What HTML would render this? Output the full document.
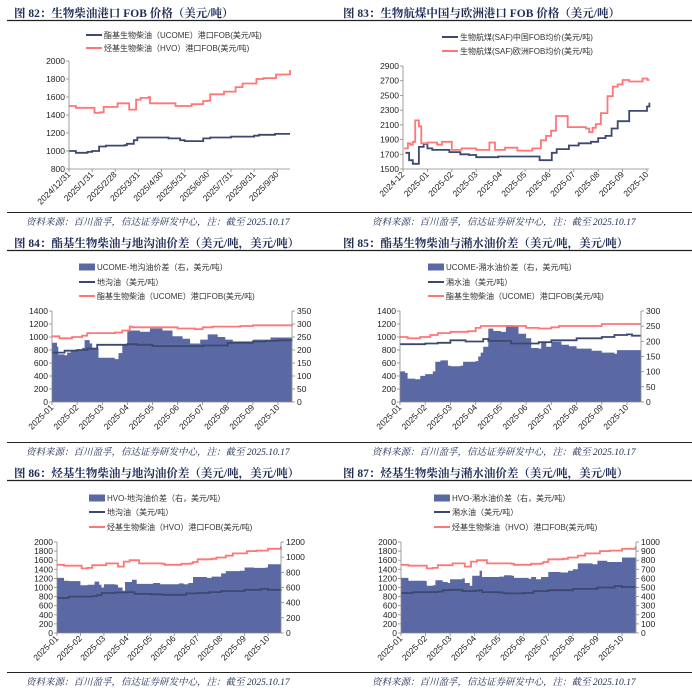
<!DOCTYPE html>
<html><head><meta charset="utf-8">
<style>
html,body{margin:0;padding:0;background:#fff;}
svg{display:block;font-family:"Liberation Sans","Noto Sans CJK SC",sans-serif;}
.ttl{font-family:"Liberation Serif","Noto Serif CJK SC",serif;font-weight:bold;font-size:11.5px;fill:#1c2a55;}
.src{font-family:"Liberation Serif","Noto Serif CJK SC",serif;font-style:italic;font-size:9.5px;fill:#1c2a55;}
.tk{font-size:8.5px;fill:#222;}
.lg{font-size:8px;fill:#333;}
</style></head><body>
<svg id="root" width="692" height="693" viewBox="0 0 692 693"></svg>
<script>
// ---------- DATA ----------
const c82T_ucome = [0,0.3,0.8,1.0,1.3,1.6,2.4,2.5,2.8,2.95,4.0,4.3,4.8,5.0,5.6,5.8,6.1,7.0,8.0,8.2,8.9,9.55];
const c82Ucome   = [1000,980,990,1000,1050,1060,1065,1080,1120,1150,1150,1140,1120,1110,1110,1140,1150,1160,1170,1180,1190,1190];
const c82T_hvo = [0,0.3,1.0,1.1,1.35,1.5,2.0,2.1,2.5,2.6,2.85,2.9,3.1,3.45,3.5,4.5,4.6,5.2,5.3,5.7,5.8,6.0,6.1,6.6,6.7,7.0,7.2,7.5,8.0,8.1,8.4,8.9,8.95,9.5,9.55];
const c82Hvo   = [1500,1480,1480,1425,1430,1490,1490,1530,1530,1460,1460,1570,1590,1600,1530,1530,1500,1500,1520,1520,1555,1560,1630,1630,1660,1660,1710,1750,1750,1800,1810,1810,1850,1850,1900];
const c82Ticks = ["2024/12/31","2025/1/31","2025/2/28","2025/3/31","2025/4/30","2025/5/31","2025/6/30","2025/7/31","2025/8/31","2025/9/30"];
const c82TickT = [0,1,2,3,4,5,6,7,8,9];
const c83T_cn = [-0.9,-0.75,-0.6,-0.4,-0.35,-0.15,0,0.2,0.9,1.35,1.7,2.0,2.9,4.6,5.1,5.3,5.8,6.2,6.7,7.0,7.3,7.55,7.8,8.27,9.0,9.1];
const c83Cn    = [1720,1620,1570,1570,1800,1840,1780,1760,1730,1700,1690,1660,1670,1620,1720,1770,1820,1850,1870,1920,1950,2050,2150,2290,2350,2400];
const c83T_eu = [-0.95,-0.8,-0.7,-0.6,-0.5,-0.35,-0.25,0,0.4,0.6,1.0,1.4,2.0,2.54,2.77,3.18,3.69,4.3,4.65,4.86,5.07,5.27,5.75,6.5,6.63,6.77,6.9,7.11,7.38,7.6,7.8,8.0,8.27,8.82,9.02,9.1];
const c83Eu    = [1780,1850,1830,1870,2160,2080,1850,1860,1830,1870,1760,1780,1760,1860,1760,1790,1750,1780,1890,1950,2020,2220,2070,2050,2000,2060,2110,2260,2490,2620,2650,2710,2690,2730,2710,2710];
const c83Ticks = ["2024-12","2025-01","2025-02","2025-03","2025-04","2025-05","2025-06","2025-07","2025-08","2025-09","2025-10"];
const c83TickT = [-1,0,1,2,3,4,5,6,7,8,9];
const monthTicks = ["2025-01","2025-02","2025-03","2025-04","2025-05","2025-06","2025-07","2025-08","2025-09","2025-10"];
const monthTickT = [0,1,2,3,4,5,6,7,8,9];
const c84T_area = [0,0.2,0.25,0.5,0.6,0.75,1.2,1.3,1.5,1.6,1.85,2.4,2.5,2.65,2.8,3.0,3.5,3.9,4.4,4.8,5.2,5.5,5.7,5.9,6.2,6.6,6.9,7.2,8.0,8.6,8.7,9.55];
const c84Spread = [228,213,183,180,190,200,208,238,225,208,170,170,165,188,218,275,270,283,275,253,243,225,225,240,260,250,240,233,240,240,248,245];
const c84T_line = [0,0.5,1.0,1.4,1.8,2.2,3.0,3.4,4.0,5.0,6.0,7.0,8.0,8.5,9.0,9.55];
const c84Uco    = [760,790,800,820,880,880,890,880,860,860,870,910,930,940,950,940];
const c84T_fob = [0,0.3,0.8,1.2,1.4,2.5,2.8,3.1,3.2,4.5,5.0,5.7,6.0,6.4,7.5,8.0,8.5,9.55];
const c84Fob   = [1010,980,1000,1020,1060,1070,1100,1160,1150,1150,1130,1120,1150,1160,1170,1180,1180,1190];
const c85T_area = [0,0.2,0.3,0.6,0.8,1.0,1.3,1.4,1.6,1.9,2.0,2.4,2.5,3.0,3.1,3.2,3.3,3.5,3.7,4.0,4.2,4.5,4.7,5.0,5.2,5.5,5.6,5.8,6.0,6.4,6.7,7.0,7.6,8.0,8.5,8.6,9.55];
const c85Spread = [101,96,77,75,86,92,101,133,137,120,118,120,133,135,150,163,182,242,234,231,253,251,225,210,178,176,195,182,199,189,184,176,169,163,159,171,169];
const c85T_line = [0,1,1.5,2,2.6,3,3.3,3.5,4,4.4,5,5.5,6,7,8,8.5,9,9.2,9.55];
const c85Gutter = [890,900,910,950,930,930,970,940,940,900,900,920,950,980,1000,1030,1040,1020,1020];
const c85T_fob = [0,0.3,0.8,1.2,1.5,2.0,2.7,3.0,3.2,4.5,5.0,5.5,6.0,6.3,7.0,8.0,9.55];
const c85Fob   = [1000,980,1000,1030,1060,1080,1090,1140,1170,1170,1140,1130,1150,1170,1170,1200,1200];
const c86T_area = [0,0.3,0.5,1.0,1.3,1.6,1.8,1.9,2.0,2.5,2.6,2.8,2.9,3.2,3.4,4.0,4.1,4.4,5.0,5.2,5.4,5.6,5.8,6.4,6.6,6.9,7.0,7.2,7.8,8.0,8.4,8.9,9.0,9.5,9.55];
const c86Spread = [726,690,684,630,636,678,636,600,642,636,600,558,672,702,648,648,660,642,642,654,642,660,738,726,744,744,786,816,822,864,858,864,906,906,960];
const c86T_line = [0,0.5,1.5,1.7,1.9,2.5,3.0,3.3,4.0,4.5,5.0,5.5,6,6.5,7,8,8.7,9.0,9.55];
const c86Gutter = [770,800,810,830,880,890,900,860,850,840,840,870,880,900,920,950,970,950,960];
const hvoT = [0,0.3,1.0,1.05,1.3,1.5,2.0,2.1,2.5,2.6,2.8,2.85,3.1,3.4,3.5,4.5,4.6,5.2,5.3,5.7,5.8,6.0,6.6,6.8,7.2,7.5,8.0,8.1,8.5,9.0,9.5,9.55];
const hvoFob = [1500,1480,1480,1420,1430,1490,1490,1530,1530,1460,1460,1570,1600,1600,1530,1520,1500,1500,1520,1530,1560,1620,1630,1660,1700,1750,1750,1800,1810,1850,1850,1900];
const c87T_area = [0,0.3,1.0,1.05,1.3,1.4,1.7,1.9,2.0,2.5,2.6,2.8,2.9,3.2,3.3,4.0,4.2,4.5,4.6,5.2,5.3,5.5,5.7,6.0,6.5,6.8,7.0,7.2,7.8,8.0,8.4,9.0,9.5,9.55];
const c87Spread = [605,575,570,520,525,580,560,550,590,600,550,520,630,685,615,620,635,630,605,595,615,590,615,670,665,685,700,765,755,795,780,830,830,920];
const c87T_line = [0,0.5,1.5,1.7,2.0,2.5,3.0,3.2,3.3,4.0,4.2,5.0,5.4,6,7,8,8.7,9.0,9.55];
const c87Gutter = [880,900,910,940,950,920,930,940,900,890,870,880,920,940,970,1000,1030,1010,1020];

// ---------- RENDER ----------
const NS = "http://www.w3.org/2000/svg";
const root = document.getElementById('root');
const DARK = "#3d4870", RED = "#ff7677", AREA = "#5a68a3";
function mk(tag, attrs, parent){ const e=document.createElementNS(NS,tag); for(const k in attrs) e.setAttribute(k,attrs[k]); (parent||root).appendChild(e); return e; }

function stepPath(ts, vs, xf, yf){
  let d = "M"+xf(ts[0]).toFixed(1)+","+yf(vs[0]).toFixed(1);
  for(let i=1;i<ts.length;i++){ d+=" H"+xf(ts[i]).toFixed(1)+" V"+yf(vs[i]).toFixed(1); }
  return d;
}

function panel(cfg){
  const g = mk('g',{transform:`translate(${cfg.ox},${cfg.oy})`});
  
  
  const t = mk('text',{x:cfg.titleX,y:17,class:'ttl'},g); t.textContent=cfg.title;
   
  mk('line',{x1:cfg.ruleX1,x2:cfg.ruleX2,y1:20.5,y2:20.5,stroke:'#222','stroke-width':1.2},g);
  mk('line',{x1:cfg.ruleX1,x2:cfg.ruleX2,y1:212.5,y2:212.5,stroke:'#222','stroke-width':1},g);
  const s = mk('text',{x:26,y:225,class:'src'},g); s.textContent="资料来源：百川盈孚，信达证券研发中心，注：截至 2025.10.17";
   
  const P = cfg.plot;
  const xf = v => P.x0 + (v - cfg.t0)*(P.x1-P.x0)/(cfg.t1-cfg.t0);
  const yf = v => P.yb - (v - cfg.ymin)*(P.yb-P.yt)/(cfg.ymax-cfg.ymin);
  const yr = v => P.yb - v*(P.yb-P.yt)/cfg.rmax;
  cfg.legend.forEach((L,i)=>{
    const ly = cfg.legY[i];
    if(L.type==='area'){ const r=mk('rect',{x:cfg.legX,y:ly-3.5,width:16,height:7,fill:AREA},g);   }
    else { const l=mk('line',{x1:cfg.legX,x2:cfg.legX+16,y1:ly,y2:ly,stroke:L.color,'stroke-width':2},g);   }
    const tx = mk('text',{x:cfg.legX+18,y:ly+3,class:'lg'},g); tx.textContent=L.label;
     
  });
  if(cfg.area){
    const a = cfg.area;
    const last = a.t[a.t.length-1];
    let d = stepPath(a.t,a.v,xf,yr)+" H"+xf(last).toFixed(1)+" V"+P.yb+" H"+xf(a.t[0]).toFixed(1)+" Z";
    const p = mk('path',{d:d,fill:AREA},g);
     
  }
  cfg.lines.forEach(L=>{
    const p = mk('path',{d:stepPath(L.t,L.v,xf,yf),fill:'none',stroke:L.color,'stroke-width':1.8},g);
     
  });
  mk('line',{x1:P.x0,x2:P.x0,y1:P.yt,y2:P.yb,stroke:'#888','stroke-width':0.8},g);
  mk('line',{x1:P.x0,x2:cfg.axisEnd||P.x1,y1:P.yb,y2:P.yb,stroke:'#888','stroke-width':0.8},g);
  for(let v=cfg.ymin; v<=cfg.ymax+1e-6; v+=cfg.ystep){
    const y=yf(v);
    mk('line',{x1:P.x0-3,x2:P.x0,y1:y,y2:y,stroke:'#888','stroke-width':0.8},g);
    const tx=mk('text',{x:P.x0-4,y:y+3,class:'tk','text-anchor':'end'},g); tx.textContent=v;
     
  }
  if(cfg.rmax){
    const rx = cfg.rAxisX;
    mk('line',{x1:rx,x2:rx,y1:P.yt,y2:P.yb,stroke:'#888','stroke-width':0.8},g);
    for(let v=0; v<=cfg.rmax+1e-6; v+=cfg.rstep){
      const y=yr(v);
      mk('line',{x1:rx,x2:rx+3,y1:y,y2:y,stroke:'#888','stroke-width':0.8},g);
      const tx=mk('text',{x:rx+5,y:y+3,class:'tk'},g); tx.textContent=v;
       
    }
  }
  cfg.xticks.forEach((lab,i)=>{
    const x=xf(cfg.xtickT[i]);
    mk('line',{x1:x,x2:x,y1:P.yb,y2:P.yb+3,stroke:'#888','stroke-width':0.8},g);
    const tx=mk('text',{x:0,y:0,class:'tk','text-anchor':'end',transform:`translate(${x+2},${P.yb+6}) rotate(-45)`},g);
    tx.textContent=lab;
     
  });
}

panel({name:'chart-82',ox:0,oy:0,titleX:14,ruleX1:7,ruleX2:346,title:"图 82：生物柴油港口 FOB 价格（美元/吨）",
  plot:{x0:69,x1:290,yt:61,yb:169},t0:0,t1:9.55,ymin:800,ymax:2000,ystep:200,
  legX:86,legY:[35,48],
  legend:[{type:'line',color:DARK,label:"酯基生物柴油（UCOME）港口FOB(美元/吨)"},{type:'line',color:RED,label:"烃基生物柴油（HVO）港口FOB(美元/吨)"}],
  lines:[{name:'ucome-fob-line',t:c82T_ucome,v:c82Ucome,color:DARK},{name:'hvo-fob-line',t:c82T_hvo,v:c82Hvo,color:RED}],
  xticks:c82Ticks,xtickT:c82TickT});
panel({name:'chart-83',ox:346,oy:0,titleX:-3,ruleX1:0,ruleX2:346,title:"图 83：生物航煤中国与欧洲港口 FOB 价格（美元/吨）",
  plot:{x0:57,x1:301,yt:66,yb:169},t0:-1,t1:9,ymin:1500,ymax:2900,ystep:200,axisEnd:303,
  legX:96,legY:[37,51],
  legend:[{type:'line',color:DARK,label:"生物航煤(SAF)中国FOB均价(美元/吨)"},{type:'line',color:RED,label:"生物航煤(SAF)欧洲FOB均价(美元/吨)"}],
  lines:[{name:'saf-china-line',t:c83T_cn,v:c83Cn,color:DARK},{name:'saf-europe-line',t:c83T_eu,v:c83Eu,color:RED}],
  xticks:c83Ticks,xtickT:c83TickT});
panel({name:'chart-84',ox:0,oy:230,titleX:14,ruleX1:7,ruleX2:346,title:"图 84：酯基生物柴油与地沟油价差（美元/吨，美元/吨）",
  plot:{x0:52,x1:278,yt:81,yb:172},t0:0,t1:9,ymin:0,ymax:1400,ystep:200,rmax:350,rstep:50,rAxisX:292,axisEnd:292,
  legX:79,legY:[37,52,66],
  legend:[{type:'area',label:"UCOME-地沟油价差（右，美元/吨）"},{type:'line',color:DARK,label:"地沟油（美元/吨）"},{type:'line',color:RED,label:"酯基生物柴油（UCOME）港口FOB(美元/吨)"}],
  area:{t:c84T_area,v:c84Spread},
  lines:[{name:'gutter-oil-line',t:c84T_line,v:c84Uco,color:DARK},{name:'ucome-fob-line',t:c84T_fob,v:c84Fob,color:RED}],
  xticks:monthTicks,xtickT:monthTickT});
panel({name:'chart-85',ox:346,oy:230,titleX:-3,ruleX1:0,ruleX2:346,title:"图 85：酯基生物柴油与潲水油价差（美元/吨，美元/吨）",
  plot:{x0:54,x1:281,yt:81,yb:172},t0:0,t1:9,ymin:0,ymax:1400,ystep:200,rmax:300,rstep:50,rAxisX:295,axisEnd:295,
  legX:82,legY:[37,52,66],
  legend:[{type:'area',label:"UCOME-潲水油价差（右，美元/吨）"},{type:'line',color:DARK,label:"潲水油（美元/吨）"},{type:'line',color:RED,label:"酯基生物柴油（UCOME）港口FOB(美元/吨)"}],
  area:{t:c85T_area,v:c85Spread},
  lines:[{name:'swill-oil-line',t:c85T_line,v:c85Gutter,color:DARK},{name:'ucome-fob-line',t:c85T_fob,v:c85Fob,color:RED}],
  xticks:monthTicks,xtickT:monthTickT});
panel({name:'chart-86',ox:0,oy:460,titleX:14,ruleX1:7,ruleX2:346,title:"图 86：烃基生物柴油与地沟油价差（美元/吨，美元/吨）",
  plot:{x0:57,x1:268,yt:82,yb:173},t0:0,t1:9,ymin:0,ymax:2000,ystep:200,rmax:1200,rstep:200,rAxisX:281,axisEnd:281,
  legX:89,legY:[38,52,67],
  legend:[{type:'area',label:"HVO-地沟油价差（右，美元/吨）"},{type:'line',color:DARK,label:"地沟油（美元/吨）"},{type:'line',color:RED,label:"烃基生物柴油（HVO）港口FOB(美元/吨)"}],
  area:{t:c86T_area,v:c86Spread},
  lines:[{name:'gutter-oil-line',t:c86T_line,v:c86Gutter,color:DARK},{name:'hvo-fob-line',t:hvoT,v:hvoFob,color:RED}],
  xticks:monthTicks,xtickT:monthTickT});
panel({name:'chart-87',ox:346,oy:460,titleX:-3,ruleX1:0,ruleX2:346,title:"图 87：烃基生物柴油与潲水油价差（美元/吨，美元/吨）",
  plot:{x0:55,x1:276,yt:82,yb:173},t0:0,t1:9,ymin:0,ymax:2000,ystep:200,rmax:1000,rstep:100,rAxisX:290,axisEnd:290,
  legX:88,legY:[38,52,67],
  legend:[{type:'area',label:"HVO-潲水油价差（右，美元/吨）"},{type:'line',color:DARK,label:"潲水油（美元/吨）"},{type:'line',color:RED,label:"烃基生物柴油（HVO）港口FOB(美元/吨)"}],
  area:{t:c87T_area,v:c87Spread},
  lines:[{name:'swill-oil-line',t:c87T_line,v:c87Gutter,color:DARK},{name:'hvo-fob-line',t:hvoT,v:hvoFob,color:RED}],
  xticks:monthTicks,xtickT:monthTickT});
</script>
</body></html>
